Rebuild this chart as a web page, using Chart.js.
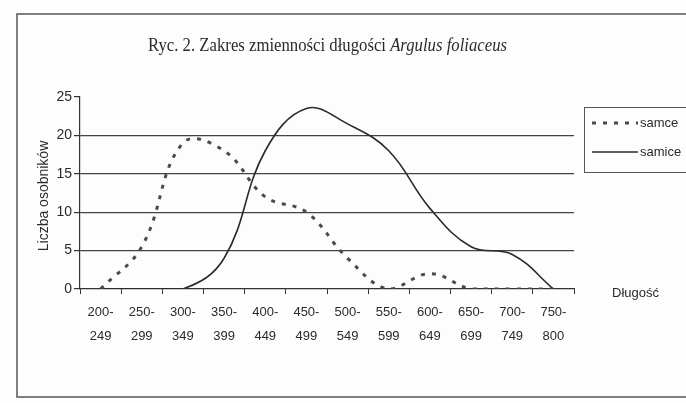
<!DOCTYPE html>
<html>
<head>
<meta charset="utf-8">
<script src="https://cdn.jsdelivr.net/npm/chart.js@4"></script>
<style>
    body { margin: 0; background: #fdfdfd; }
    canvas { display: block; }
</style>
</head>
<body>
<canvas id="lengthChart" width="686" height="403"></canvas>
<script>
// Length classes (mm) and counts
const lengthClasses = [
    ['200-', '249'], ['250-', '299'], ['300-', '349'], ['350-', '399'],
    ['400-', '449'], ['450-', '499'], ['500-', '549'], ['550-', '599'],
    ['600-', '649'], ['650-', '699'], ['700-', '749'], ['750-', '800']
];
const samce = [0, 5.5, 19, 18, 12, 10, 4, 0, 2, 0, 0, 0];
const samice = [0, 0, 0, 4, 18, 23.5, 21.5, 18, 10.5, 5.5, 4.5, 0];
const seriesNames = ['samce', 'samice'];
const yTicks = [0, 5, 10, 15, 20, 25];

const sansFont = "'Liberation Sans Narrow', 'Liberation Sans', Arial, sans-serif";
const inkColor = '#2b2b2b';

// Draws frame, title, axis titles and the Excel-like legend box
const decorations = {
    id: 'decorations',
    beforeDraw(chart) {
        const ctx = chart.ctx;
        ctx.save();
        ctx.strokeStyle = '#555';
        ctx.lineWidth = 1.5;
        ctx.strokeRect(17, 14, 700, 383);
        ctx.restore();
    },
    afterDraw(chart) {
        const ctx = chart.ctx;
        ctx.save();
        ctx.fillStyle = inkColor;

        // title, squeezed horizontally like the scanned original
        const part1 = 'Ryc. 2. Zakres zmienności długości ';
        const part2 = 'Argulus foliaceus';
        const f1 = "19px 'Liberation Serif', 'Times New Roman', serif";
        const f2 = "italic 19px 'Liberation Serif', 'Times New Roman', serif";
        ctx.font = f1;
        const w1 = ctx.measureText(part1).width;
        ctx.font = f2;
        const w2 = ctx.measureText(part2).width;
        const sx = 359 / (w1 + w2);
        ctx.save();
        ctx.translate(148, 51);
        ctx.scale(sx, 1);
        ctx.textBaseline = 'alphabetic';
        ctx.textAlign = 'left';
        ctx.font = f1;
        ctx.fillText(part1, 0, 0);
        ctx.font = f2;
        ctx.fillText(part2, w1, 0);
        ctx.restore();

        // y axis title
        ctx.save();
        ctx.translate(44, 196);
        ctx.rotate(-Math.PI / 2);
        ctx.font = '14px ' + sansFont;
        ctx.textAlign = 'center';
        ctx.textBaseline = 'middle';
        ctx.fillText('Liczba osobników', 0, 0);
        ctx.restore();

        // x axis title
        ctx.font = '13px ' + sansFont;
        ctx.textAlign = 'left';
        ctx.textBaseline = 'middle';
        ctx.fillText('Długość', 612, 293);

        // legend box
        ctx.strokeStyle = '#555';
        ctx.lineWidth = 1;
        ctx.strokeRect(584.5, 107.5, 120, 65);
        chart.data.datasets.forEach((ds, i) => {
            const y = 123 + i * 29;
            ctx.beginPath();
            ctx.strokeStyle = ds.borderColor;
            ctx.lineWidth = ds.borderWidth;
            ctx.setLineDash(ds.borderDash || []);
            ctx.moveTo(592, y);
            ctx.lineTo(638, y);
            ctx.stroke();
            ctx.setLineDash([]);
            ctx.fillStyle = inkColor;
            ctx.font = '13px ' + sansFont;
            ctx.textBaseline = 'middle';
            ctx.fillText(ds.label, 640, y);
        });
        ctx.restore();
    }
};

const ctx = document.getElementById('lengthChart').getContext('2d');

const lengthChart = new Chart(ctx, {
    type: 'line',
    data: {
        labels: lengthClasses,
        datasets: [
            {
                label: seriesNames[0],
                data: samce,
                borderColor: '#4a4a4a',
                borderWidth: 3,
                borderDash: [4, 7],
                borderCapStyle: 'butt',
                tension: 0.4,
                pointRadius: 0,
                fill: false
            },
            {
                label: seriesNames[1],
                data: samice,
                borderColor: '#2a2a2a',
                borderWidth: 1.6,
                tension: 0.4,
                pointRadius: 0,
                fill: false
            }
        ]
    },
    options: {
        responsive: false,
        animation: false,
        layout: {
            padding: { left: 0, top: 97, right: 112, bottom: 0 }
        },
        plugins: {
            legend: { display: false },
            title: { display: false },
            tooltip: { enabled: false }
        },
        scales: {
            x: {
                offset: true,
                grid: {
                    offset: true,
                    drawOnChartArea: false,
                    drawTicks: true,
                    tickLength: 5,
                    tickColor: '#333'
                },
                border: { color: '#333', width: 1.2 },
                ticks: {
                    color: inkColor,
                    font: { family: sansFont, size: 13, lineHeight: 1.85 },
                    maxRotation: 0,
                    autoSkip: false,
                    padding: 6
                },
                afterFit(scale) { scale.height = 403 - 289; }
            },
            y: {
                min: 0,
                max: 25,
                afterBuildTicks(scale) {
                    scale.ticks = yTicks.map(v => ({ value: v }));
                },
                grid: {
                    color: c => (c.tick && (c.tick.value === 0 || c.tick.value === 25)) ? 'rgba(0,0,0,0)' : '#444',
                    lineWidth: 1.2,
                    drawTicks: true,
                    tickLength: 6,
                    tickColor: '#333'
                },
                border: { color: '#333', width: 1.2 },
                ticks: {
                    color: inkColor,
                    font: { family: sansFont, size: 14 },
                    padding: 2
                },
                afterFit(scale) { scale.width = 80; }
            }
        }
    },
    plugins: [decorations]
});
</script>
</body>
</html>
